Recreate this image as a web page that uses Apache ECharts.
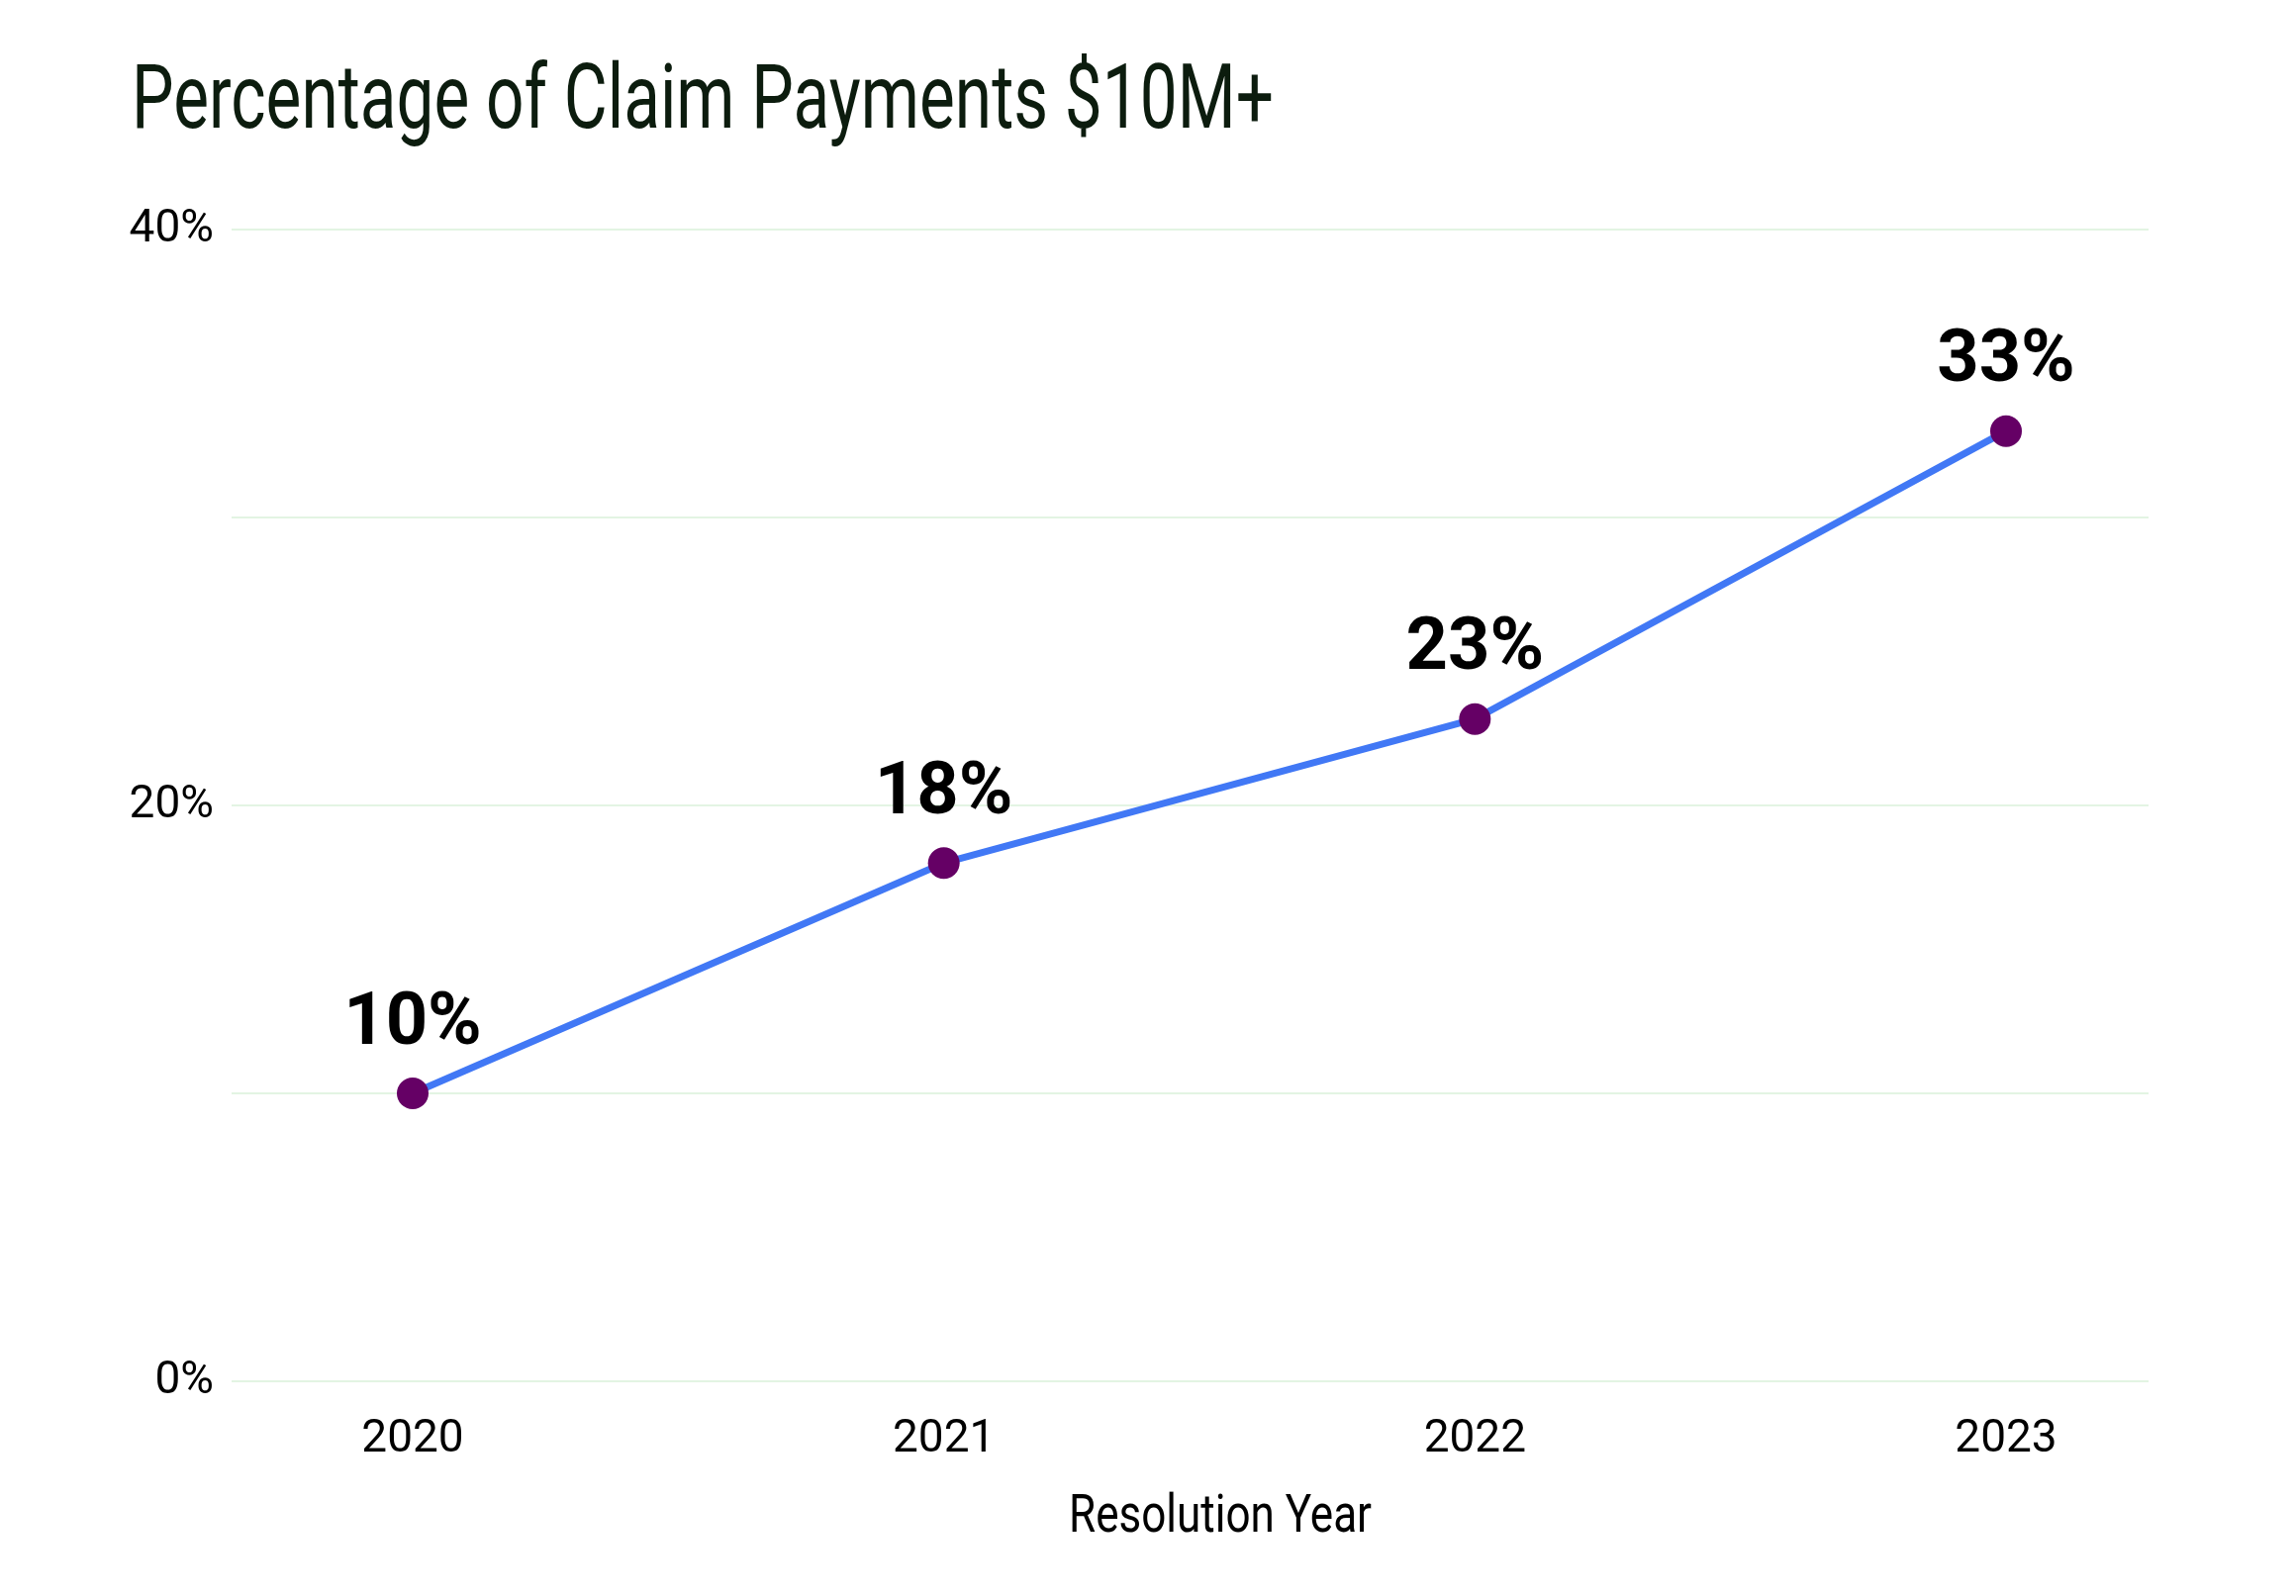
<!DOCTYPE html>
<html><head><meta charset="utf-8">
<script src="https://cdn.jsdelivr.net/npm/echarts@6/dist/echarts.min.js"></script>
<style>html,body{margin:0;padding:0;background:#fff}#c{width:2320px;height:1613px}</style>
</head><body><div id="c"></div>
<script>
const categories = ['2020', '2021', '2022', '2023'];
const values = [10, 18, 23, 33];
const yTicks = [0, 20, 40];
const titleText = 'Percentage of Claim Payments $10M+';
const xName = 'Resolution Year';

const F = 'Roboto, "Liberation Sans", sans-serif';
function fitScale(text, font, target) {
  const ctx = document.createElement('canvas').getContext('2d');
  ctx.font = font;
  return target / ctx.measureText(text).width;
}
const titleSize = 90, nameSize = 54;
const titleScale = fitScale(titleText, `normal ${titleSize}px ${F}`, 1154);
const nameScale = fitScale(xName, `normal ${nameSize}px ${F}`, 306);

const chart = echarts.init(document.getElementById('c'));
chart.setOption({
  backgroundColor: '#ffffff',
  animation: false,
  graphic: [
    {
      type: 'text', x: 133, y: 106, scaleX: titleScale, scaleY: 1,
      style: { text: titleText, font: `normal ${titleSize}px ${F}`, fill: '#0c1c0e',
               align: 'left', verticalAlign: 'middle' }
    },
    {
      type: 'text', x: 1233, y: 1534, scaleX: nameScale, scaleY: 1,
      style: { text: xName, font: `normal ${nameSize}px ${F}`, fill: '#000',
               align: 'center', verticalAlign: 'middle' }
    }
  ],
  grid: [
    { left: 234, right: 149, top: 232, bottom: 217 },
    { left: 417, right: 293, top: 232, bottom: 217 }
  ],
  xAxis: [
    { type: 'category', gridIndex: 0, data: categories, show: false },
    {
      type: 'category', gridIndex: 1, data: categories, boundaryGap: false,
      axisLine: { show: false }, axisTick: { show: false },
      axisLabel: { fontFamily: F, fontSize: 46, color: '#000', margin: 36 }
    }
  ],
  yAxis: [
    {
      type: 'value', gridIndex: 0, min: 0, max: 40, interval: 10,
      axisLine: { show: false }, axisTick: { show: false },
      splitLine: { lineStyle: { color: '#e3f4e3', width: 2 } },
      axisLabel: {
        fontFamily: F, fontSize: 46, color: '#000', margin: 18,
        padding: [10, 0, 0, 0],
        formatter: v => yTicks.indexOf(v) >= 0 ? v + '%' : ''
      }
    },
    { type: 'value', gridIndex: 1, min: 0, max: 40, interval: 10, show: false }
  ],
  series: [{
    type: 'line', xAxisIndex: 1, yAxisIndex: 1, data: values,
    symbol: 'circle', symbolSize: 32,
    lineStyle: { color: '#4178f5', width: 7 },
    itemStyle: { color: '#650065' },
    label: {
      show: true, position: 'top', distance: 16,
      formatter: p => p.value + '%',
      fontFamily: F, fontSize: 74, fontWeight: 'bold', color: '#000'
    }
  }]
});
</script></body></html>
